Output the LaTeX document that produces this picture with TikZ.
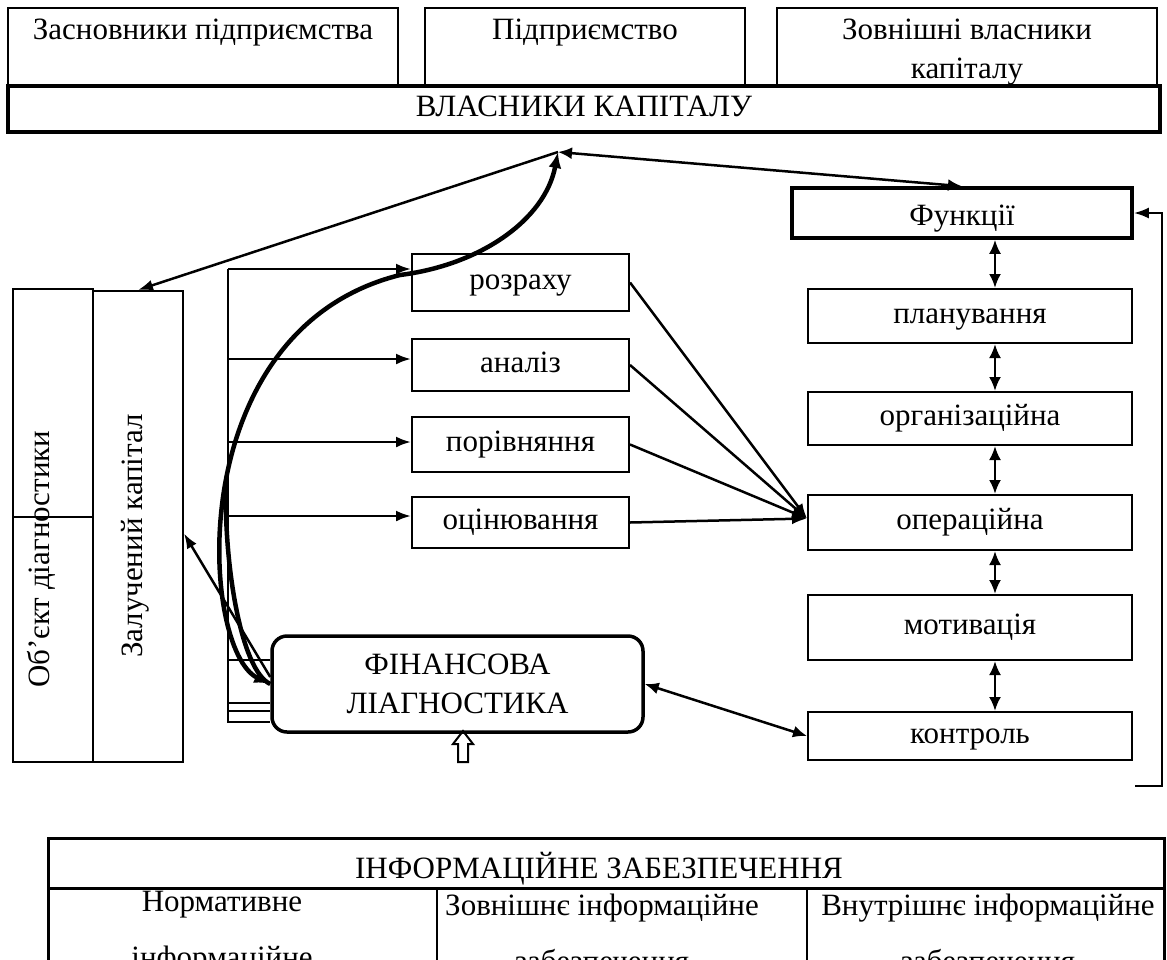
\documentclass[tikz,border=0pt]{standalone}
\usepackage{fontspec}
\setmainfont{Liberation Serif}
\usetikzlibrary{arrows.meta}
\newcommand{\shrift}{\fontsize{31pt}{39pt}\selectfont}

\begin{document}
\begin{tikzpicture}[x=1pt,y=-1pt,font=\shrift,
  blok/.style={draw,line width=2pt,inner sep=0pt,align=center},
  riadok/.style={text height=21pt,text depth=7pt},
  zhyrn/.style={blok,line width=3.5pt},
  strl/.style={-{Latex[length=15pt,width=11pt]},line width=2.5pt},
  dstrl/.style={{Latex[length=14pt,width=12pt]}-{Latex[length=14pt,width=12pt]},line width=2.5pt},
  duha/.style={line width=4.5pt}]
\useasboundingbox (0,0) rectangle (1167,959);
%top row: owners of capital
\node[blok,minimum width=390pt,minimum height=79pt,label={[anchor=north,yshift=-8pt]north:Засновники підприємства}] (zasn) at (203,47.5) {};
\node[blok,minimum width=320pt,minimum height=79pt,label={[anchor=north,yshift=-8pt]north:Підприємство}] (pidpr) at (585,47.5) {};
\node[blok,minimum width=380pt,minimum height=79pt,label={[anchor=north,yshift=-8pt,align=center]north:Зовнішні власники\\капіталу}] (zovn) at (967,47.5) {};
\node[zhyrn,riadok,minimum width=1152pt,minimum height=46pt] (vlasn) at (584,109) {ВЛАСНИКИ КАПІТАЛУ};
\coordinate (hub) at (558,152);
%left column
\node[blok,minimum width=80pt,minimum height=473pt] (obj) at (53,525.5) {};
\node[blok,minimum width=90pt,minimum height=471pt] (zal) at (138,526.5) {};
\node[rotate=90] (objt) at (41,559) {Об’єкт діагностики};
\node[rotate=90] (zalt) at (135,536) {Залучений капітал};
\draw[line width=2pt] (obj.west |- 0,517) -- (obj.east |- 0,517);
%middle boxes
\foreach \n/\y/\h/\t in {rozr/282.5/57/розраху, anal/365/52/аналіз, porivn/444.5/55/порівняння, otsin/522.5/51/оцінювання}
  \node[blok,riadok,minimum width=217pt,minimum height=\h pt] (\n) at (520.5,\y) {\t};
%functions
\node[zhyrn,text height=27pt,text depth=3pt,minimum width=340pt,minimum height=50pt] (func) at (962,213) {Функції};
\foreach \n/\y/\h/\t in {plan/316/54/планування, org/418.5/53/організаційна, oper/522.5/55/операційна, motyv/627.5/65/мотивація, kontr/736/48/контроль}
  \node[blok,riadok,minimum width=324pt,minimum height=\h pt] (\n) at (970,\y) {\t};
\coordinate (os) at (995,0);
%diagnostics
\node[zhyrn,rounded corners=15pt,minimum width=371pt,minimum height=96pt] (fin) at (457.5,684) {ФІНАНСОВА\\ЛІАГНОСТИКА};
\coordinate (vhid) at (463,731);
\draw[line width=2pt] (vhid) -- ++(10,13) -- ++(-5,0) -- ++(0,18) -- ++(-10,0) -- ++(0,-18) -- ++(-5,0) -- cycle;
% bus on the left
\coordinate (sh1) at (228,269);
\coordinate (sh2) at (228,722);
\draw[line width=2pt] (sh1) -- (sh2) -- (sh2 -| fin.west);
\foreach \y in {660,703,711}
  \draw[line width=2pt] (228,\y) -- (fin.west |- 228,\y);
\foreach \y/\b in {269/rozr,359/anal,442/porivn,516/otsin}
  \draw[strl] (228,\y) -- (\b.west |- 228,\y);
% arrows
\foreach \b in {rozr,anal,porivn,otsin}
  \draw[strl] (\b.east) -- ([yshift=4pt]oper.west);
\foreach \a/\b in {func/plan,plan/org,org/oper,oper/motyv,motyv/kontr}
  \draw[dstrl] (\a.south -| os) -- (\b.north -| os);
\draw[strl] (hub) -- (zal.north);
\draw[dstrl] (hub) -- (func.north);
\draw[strl] ([yshift=7pt]fin.west) -- ([yshift=-7pt]zal.east);
\draw[dstrl] (fin.east) -- (kontr.west);
\draw[duha,{Latex[length=16pt,width=13pt]}-{Latex[length=16pt,width=13pt]}] (fin.west) .. controls (200,650) and (180,330) .. (400,275) .. controls (480,265) and (545,220) .. (hub);
\coordinate (styk) at (226,487);
\draw[duha] (fin.west) .. controls (240,670) and (224,560) .. (styk);
% feedback
\coordinate (zv) at (1135,786);
\coordinate (zvr) at (1162,786);
\draw[strl] (zv) -- (zvr) |- (func.east);
%information support
\draw[line width=3pt] (48,838) rectangle (1164,1000);
\draw[line width=3pt] (48,888) -- (1164,888);
\draw[line width=2pt] (437,888) -- (437,1000) (807,888) -- (807,1000);
\node (inf) at (599,869) {ІНФОРМАЦІЙНЕ ЗАБЕЗПЕЧЕННЯ};
\node[align=center,font=\fontsize{31pt}{56pt}\selectfont] (normt) at (222,933) {Нормативне\\інформаційне};
\node[align=center,font=\fontsize{31pt}{56pt}\selectfont] (zovnt) at (602,933) {Зовнішнє інформаційне\\забезпечення};
\node[align=center,font=\fontsize{31pt}{56pt}\selectfont] (vnutrt) at (988,933) {Внутрішнє інформаційне\\забезпечення};
\end{tikzpicture}
\end{document}
